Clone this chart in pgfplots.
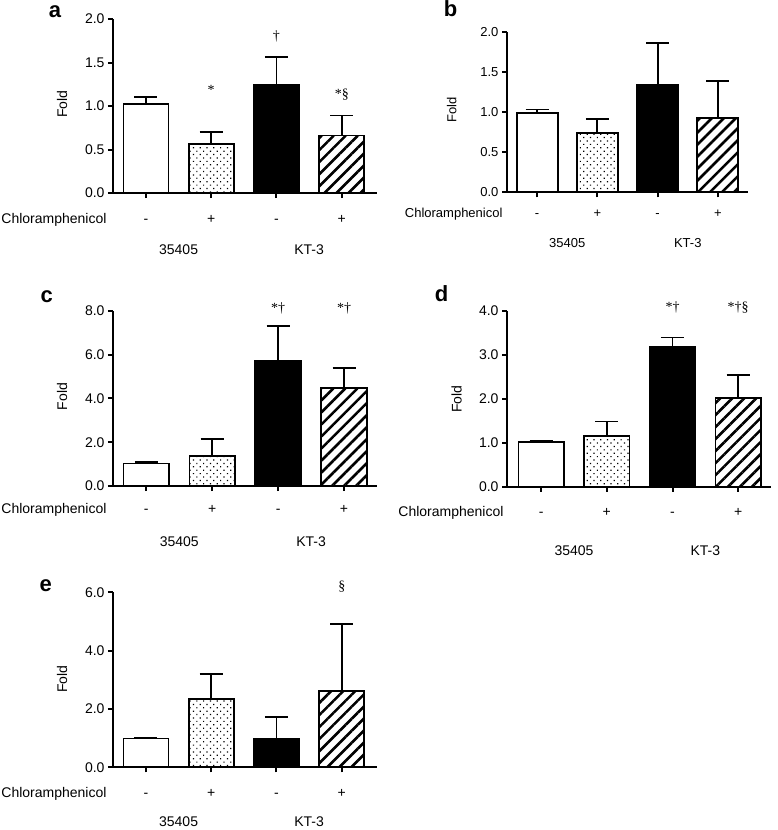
\documentclass[border=0pt]{standalone}
\usepackage{pgfplots}
\pgfplotsset{compat=1.18}
\usepackage{fontspec}
\setmainfont{Liberation Sans}
\newfontfamily\annfont{Liberation Serif}
\usetikzlibrary{patterns.meta}

\tikzset{ann/.style={font=\annfont\fontsize{14}{16}\selectfont},
  rf/.style={font=\fontsize{14}{16}\selectfont},
  rfb/.style={font=\fontsize{13}{15}\selectfont}}
\pgfplotsset{
  panel/.style={
    scale only axis, anchor=south west, clip=false,
    axis x line*=bottom, axis y line*=left,
    axis line style={line width=2pt,-},
    tick align=outside, major tick length=5pt,
    major tick style={line width=2pt, black},
    xtick={0,1,2,3}, xticklabels={},
    ymin=0,
    yticklabel style={/pgf/number format/.cd, fixed, fixed zerofill, precision=1, assume math mode=true},
    tick label style={font=\fontsize{14}{16}\selectfont},
    ybar, bar width=0.69,
  },
  bb/.style={draw=black, line width=1.8pt, bar shift=0pt,
    error bars/y dir=plus, error bars/y explicit,
    error bars/error bar style={line width=1.8pt, black, solid},
    error bars/error mark options={rotate=90, mark size=11.5pt, line width=1.8pt, black, solid}},
  b1/.style={bb, fill=white},
  b2/.style={bb, fill=white, postaction={pattern={Dots[distance=4.8pt, angle=45, radius=0.85pt]}}},
  b3/.style={bb, fill=black},
  b4/.style={bb, fill=white, postaction={pattern={Lines[angle=45, distance=8.5pt, line width=2.6pt]}}},
}
\newcommand\rows[4]{% baseline1, baseline2, chloro xshift, font style
  \node[anchor=base,#4] at ([yshift=-#1pt]axis cs:0,0) {-};
  \node[anchor=base,#4] at ([yshift=-#1pt]axis cs:1,0) {+};
  \node[anchor=base,#4] at ([yshift=-#1pt]axis cs:2,0) {-};
  \node[anchor=base,#4] at ([yshift=-#1pt]axis cs:3,0) {+};
  \node[anchor=base east,#4] at ([yshift=-#1pt, xshift=#3pt]rel axis cs:0,0) {Chloramphenicol};
  \node[anchor=base,#4] at ([yshift=-#2pt]axis cs:0.5,0) {35405};
  \node[anchor=base,#4] at ([yshift=-#2pt]axis cs:2.5,0) {KT-3};
}

\begin{document}
\begin{tikzpicture}
\path[use as bounding box] (0pt,0pt) rectangle (778pt,-830pt);

% ---------- a ----------
\begin{axis}[panel, at={(113pt,-193pt)}, width=264pt, height=174pt,
  xmin=-0.505, xmax=3.54, ymax=2, ytick={0,0.5,1,1.5,2}]
\addplot[b1] coordinates {(0,1.02) +- (0,0.08)};
\addplot[b2] coordinates {(1,0.56) +- (0,0.14)};
\addplot[b3] coordinates {(2,1.24) +- (0,0.32)};
\addplot[b4] coordinates {(3,0.66) +- (0,0.23)};
\node[ann] at (axis cs:1,1.18) {*};
\node[ann] at (axis cs:2,1.80) {†};
\node[ann] at (axis cs:3,1.13) {*§};
\rows{30}{61}{-3}{rf}
\end{axis}

% ---------- b ----------
\begin{axis}[panel, at={(507pt,-192.3pt)}, width=241pt, height=160.6pt,
  xmin=-0.5, xmax=3.5, ymax=2, ytick={0,0.5,1,1.5,2}, bar width=0.68,
  tick label style={font=\fontsize{13}{15}\selectfont}]
\addplot[b1] coordinates {(0,0.99) +- (0,0.04)};
\addplot[b2] coordinates {(1,0.74) +- (0,0.17)};
\addplot[b3] coordinates {(2,1.34) +- (0,0.52)};
\addplot[b4] coordinates {(3,0.93) +- (0,0.46)};
\rows{25.4}{55.4}{-1}{rfb}
\end{axis}

% ---------- c ----------
\begin{axis}[panel, at={(113pt,-486pt)}, width=264pt, height=175.3pt,
  xmin=-0.505, xmax=3.5, ymax=8, ytick={0,2,4,6,8}]
\addplot[b1] coordinates {(0,1.03) +- (0,0.07)};
\addplot[b2] coordinates {(1,1.38) +- (0,0.75)};
\addplot[b3] coordinates {(2,5.72) +- (0,1.58)};
\addplot[b4] coordinates {(3,4.49) +- (0,0.91)};
\node[ann] at (axis cs:2,8.11) {*†};
\node[ann] at (axis cs:3,8.11) {*†};
\rows{27.3}{60}{-3}{rf}
\end{axis}

% ---------- d ----------
\begin{axis}[panel, at={(507pt,-486.7pt)}, width=264pt, height=176pt,
  xmin=-0.52, xmax=3.5, ymax=4, ytick={0,1,2,3,4}]
\addplot[b1] coordinates {(0,1.01) +- (0,0.035)};
\addplot[b2] coordinates {(1,1.15) +- (0,0.33)};
\addplot[b3] coordinates {(2,3.18) +- (0,0.21)};
\addplot[b4] coordinates {(3,2.02) +- (0,0.52)};
\node[ann] at (axis cs:2,4.08) {*†};
\node[ann] at (axis cs:3,4.08) {*†§};
\rows{29.3}{68.3}{0}{rf}
\end{axis}

% ---------- e ----------
\begin{axis}[panel, at={(113pt,-767.3pt)}, width=264pt, height=175pt,
  xmin=-0.505, xmax=3.54, ymax=6, ytick={0,2,4,6}]
\addplot[b1] coordinates {(0,0.99) +- (0,0.02)};
\addplot[b2] coordinates {(1,2.34) +- (0,0.86)};
\addplot[b3] coordinates {(2,0.97) +- (0,0.76)};
\addplot[b4] coordinates {(3,2.63) +- (0,2.27)};
\node[ann] at (axis cs:3,6.19) {§};
\rows{30}{59.4}{-3}{rf}
\end{axis}

% panel letters
\begin{scope}[every node/.style={font=\bfseries\fontsize{22}{24}\selectfont, anchor=base}]
\node at (55pt,-17pt) {a};
\node at (450.7pt,-16.7pt) {b};
\node at (46.7pt,-302.7pt) {c};
\node at (441.7pt,-301.7pt) {d};
\node at (45.7pt,-591.7pt) {e};
\end{scope}
% y labels
\begin{scope}[every node/.style={font=\fontsize{14}{16}\selectfont, rotate=90}]
\node at (62pt,-104pt) {Fold};
\node[font=\fontsize{13}{15}\selectfont] at (451.7pt,-110pt) {Fold};
\node at (62pt,-396.7pt) {Fold};
\node at (456.7pt,-399pt) {Fold};
\node at (62pt,-679pt) {Fold};
\end{scope}
\end{tikzpicture}
\end{document}
